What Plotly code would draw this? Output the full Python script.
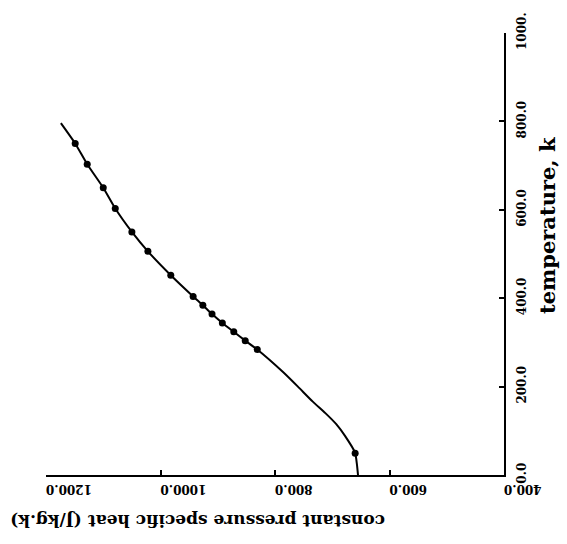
import plotly.graph_objects as go

# Specific heat curve, cp (J/kg.k) against temperature (k)
curve_temp = [0, 25, 50, 89, 115, 140, 166, 200, 233, 284, 304, 324, 344, 364,
              384, 404, 452, 506, 550, 603, 650, 703, 750, 796]
curve_cp = [655, 657, 660, 678, 693, 712, 734, 760, 786, 831, 852, 872, 892, 910,
            926, 943, 982, 1022, 1050, 1079, 1100, 1128, 1149, 1174]

# Tabulated points
point_temp = [49, 284, 304, 324, 344, 364, 384, 404, 452, 506, 550, 603, 650, 703, 750]
point_cp = [660, 831, 852, 872, 892, 910, 926, 943, 982, 1022, 1050, 1079, 1100, 1128, 1149]

cp_ticks = [400, 600, 800, 1000, 1200]
cp_labels = ["400.0", "600.0", "800.0", "1000.0", "1200.0"]
temp_ticks = [0, 200, 400, 600, 800, 1000]
temp_labels = ["0.0", "200.0", "400.0", "600.0", "800.0", "1000."]

serif = "DejaVu Serif"

fig = go.Figure()
fig.add_trace(go.Scatter(
    x=curve_cp, y=curve_temp, mode="lines",
    line=dict(color="black", width=2, shape="spline", smoothing=0.5),
    hoverinfo="skip", showlegend=False,
))
fig.add_trace(go.Scatter(
    x=point_cp, y=point_temp, mode="markers",
    marker=dict(color="black", size=7, symbol="circle"),
    showlegend=False,
))

fig.update_layout(
    width=567, height=544,
    margin=dict(l=46, r=63, t=24, b=69),
    paper_bgcolor="white", plot_bgcolor="white",
    font=dict(family=serif, color="black"),
    xaxis=dict(
        range=[1200, 400], tickvals=cp_ticks, ticktext=cp_labels,
        tickangle=180, ticks="inside", ticklen=5, tickwidth=1.5,
        tickcolor="black", showline=True, linecolor="black", linewidth=2,
        showgrid=False, zeroline=False, side="bottom",
        tickfont=dict(family=serif, size=12, color="black", weight="bold"),
        ticklabelstandoff=6,
    ),
    yaxis=dict(
        range=[0, 1000], tickvals=temp_ticks, ticktext=temp_labels,
        tickangle=-90, ticks="inside", ticklen=5, tickwidth=1.5,
        tickcolor="black", showline=True, linecolor="black", linewidth=2,
        showgrid=False, zeroline=False, side="right",
        tickfont=dict(family=serif, size=12, color="black", weight="bold"),
        ticklabelstandoff=6,
    ),
    annotations=[
        dict(
            text="constant pressure specific heat (J/kg.k)",
            xref="paper", yref="paper", x=(198 - 46) / 458, y=-(522 - 475) / 451,
            xanchor="center", yanchor="middle", showarrow=False, textangle=180,
            font=dict(family=serif, size=17, color="black", weight="bold"),
        ),
        dict(
            text="temperature, k",
            xref="paper", yref="paper", x=(547 - 46) / 458, y=(475 - 221) / 451,
            xanchor="center", yanchor="middle", showarrow=False, textangle=-90,
            font=dict(family=serif, size=21, color="black", weight="bold"),
        ),
    ],
)

fig.write_html("out.html")
